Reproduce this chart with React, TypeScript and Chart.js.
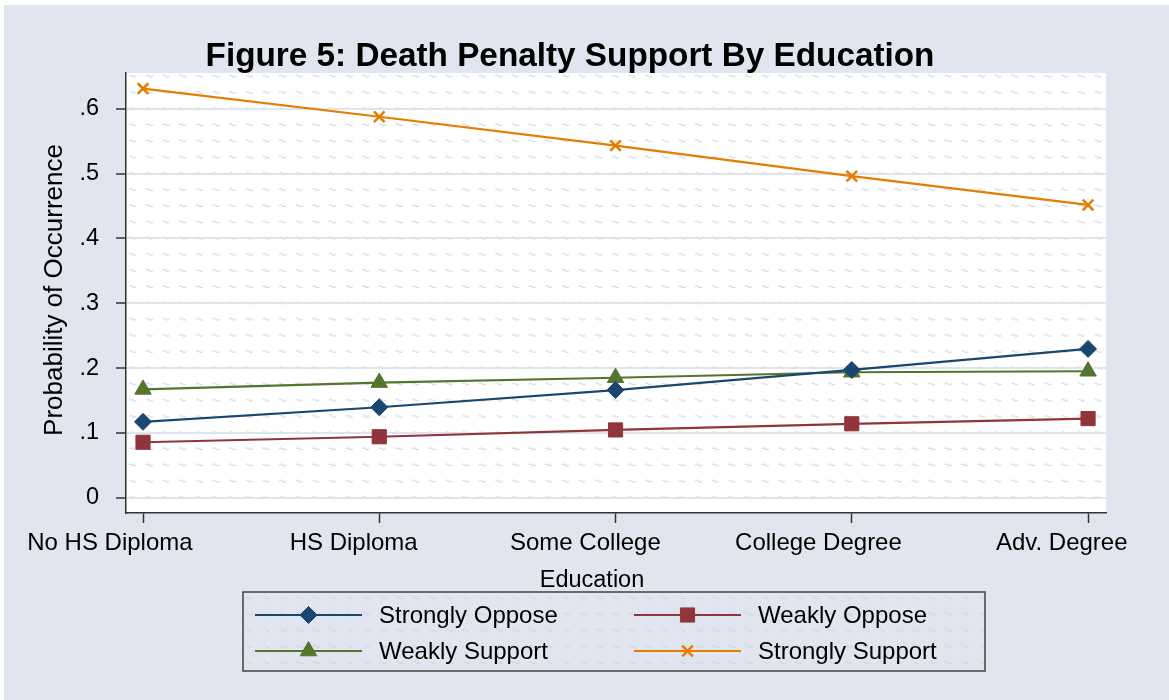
import React, { useEffect, useRef } from 'react';
import { Chart, registerables } from 'chart.js';
import { drawPoint } from 'chart.js/helpers';

Chart.register(...registerables);

const categories = ['No HS Diploma', 'HS Diploma', 'Some College', 'College Degree', 'Adv. Degree'];
const categoryPositions = [1, 2, 3, 4, 5];
const stronglyOppose = [0.117, 0.1395, 0.166, 0.197, 0.2295];
const weaklyOppose = [0.0855, 0.094, 0.1045, 0.114, 0.122];
const weaklySupport = [0.167, 0.1775, 0.185, 0.1935, 0.195];
const stronglySupport = [0.631, 0.5875, 0.543, 0.496, 0.4515];
const yTickValues = [0, 0.1, 0.2, 0.3, 0.4, 0.5, 0.6];
const yTickLabels = ['0', '.1', '.2', '.3', '.4', '.5', '.6'];
const seriesLabels = ['Strongly Oppose', 'Weakly Oppose', 'Weakly Support', 'Strongly Support'];
const seriesColors = ['#1a476f', '#90353b', '#55752f', '#e37e00'];
const seriesMarkers = ['rectRot', 'rect', 'triangle', 'crossRot'];
const markerRadius = [8.5, 10, 9.5, 7.5];
const seriesValues = [stronglyOppose, weaklyOppose, weaklySupport, stronglySupport];

const FONT = '"Liberation Sans", Arial, Helvetica, sans-serif';
const BG = '#e1e5f0';

function makePattern(): CanvasPattern | null {
  const c = document.createElement('canvas');
  c.width = 16;
  c.height = 16;
  const g = c.getContext('2d');
  if (!g) return null;
  g.strokeStyle = 'rgb(206,213,229)';
  g.lineWidth = 1.1;
  g.beginPath();
  g.moveTo(3, 7.5);
  g.lineTo(5, 6.8);
  g.lineTo(7.5, 8.6);
  g.lineTo(10, 8);
  g.stroke();
  const ctx = document.createElement('canvas').getContext('2d');
  return ctx ? ctx.createPattern(c, 'repeat') : null;
}

export default function App() {
  const ref = useRef<HTMLCanvasElement | null>(null);

  useEffect(() => {
    document.body.style.margin = '0';
    document.body.style.overflow = 'hidden';
    const canvas = ref.current;
    if (!canvas) return;
    const pattern = makePattern();

    const fillPattern = (ctx: CanvasRenderingContext2D, x: number, y: number, w: number, h: number, oy: number) => {
      if (!pattern) return;
      try {
        pattern.setTransform(new DOMMatrix().translate(x, oy).scale(1.04, 1.0125));
      } catch (e) {}
      ctx.fillStyle = pattern;
      ctx.fillRect(x, y, w, h);
    };

    const decor = {
      id: 'decor',
      beforeDraw(chart: any) {
        const ctx: CanvasRenderingContext2D = chart.ctx;
        const { left, top, right, bottom } = chart.chartArea;
        ctx.save();
        ctx.fillStyle = '#ffffff';
        ctx.fillRect(0, 0, chart.width, chart.height);
        ctx.fillStyle = BG;
        ctx.fillRect(4, 5, chart.width - 4, chart.height - 5);
        ctx.fillStyle = '#ffffff';
        ctx.fillRect(left, top, right - left, bottom - top);
        const y06 = chart.scales.y.getPixelForValue(0.6);
        fillPattern(ctx, left, top, right - left, bottom - top, y06 - 8 - 16.2 * 3);
        ctx.restore();
      },
      afterDraw(chart: any) {
        const ctx: CanvasRenderingContext2D = chart.ctx;
        const { left, top, bottom } = chart.chartArea;
        ctx.save();
        // title
        ctx.fillStyle = '#000';
        ctx.font = `bold 33.3px ${FONT}`;
        ctx.textAlign = 'center';
        ctx.textBaseline = 'alphabetic';
        ctx.fillText('Figure 5: Death Penalty Support By Education', 570, 66);
        // x tick labels (Stata-style offset placement)
        ctx.font = `24px ${FONT}`;
        ctx.textAlign = 'left';
        const xs = chart.scales.x;
        categoryPositions.forEach((p, k) => {
          const px = xs.getPixelForValue(p);
          const w = ctx.measureText(categories[k]).width;
          ctx.fillText(categories[k], px - 0.7 * w, 550);
        });
        // axis titles
        ctx.textAlign = 'center';
        ctx.font = `23.5px ${FONT}`;
        ctx.fillText('Education', 592, 587);
        ctx.save();
        ctx.translate(left - 64, (top + bottom) / 2 - 3);
        ctx.rotate(-Math.PI / 2);
        ctx.textBaseline = 'alphabetic';
        ctx.font = `26px ${FONT}`;
        ctx.fillText('Probability of Occurrence', 0, 0);
        ctx.restore();
        // legend
        const bx = 243, by = 592, bw = 742, bh = 79;
        ctx.fillStyle = BG;
        ctx.fillRect(bx, by, bw, bh);
        fillPattern(ctx, bx, by, bw, bh, by - 2);
        ctx.strokeStyle = '#404040';
        ctx.lineWidth = 1.5;
        ctx.strokeRect(bx, by, bw, bh);
        const colLine = [255, 634];
        const colText = [379, 758];
        const rowY = [615, 651];
        chart.data.datasets.forEach((ds: any, i: number) => {
          const col = i % 2;
          const row = Math.floor(i / 2);
          const y = rowY[row];
          ctx.strokeStyle = ds.borderColor;
          ctx.lineWidth = 2.2;
          ctx.beginPath();
          ctx.moveTo(colLine[col], y);
          ctx.lineTo(colLine[col] + 107, y);
          ctx.stroke();
          ctx.fillStyle = ds.pointBackgroundColor;
          ctx.strokeStyle = ds.pointBorderColor;
          ctx.lineWidth = ds.pointBorderWidth;
          drawPoint(ctx, { pointStyle: ds.pointStyle, radius: ds.pointRadius, rotation: 0, borderWidth: ds.pointBorderWidth } as any, colLine[col] + 53.5, y);
          ctx.fillStyle = '#000';
          ctx.font = `24px ${FONT}`;
          ctx.textAlign = 'left';
          ctx.textBaseline = 'middle';
          ctx.fillText(ds.label, colText[col], y + 1);
        });
        ctx.restore();
      },
    };

    const datasets = seriesValues.map((vals, i) => ({
      label: seriesLabels[i],
      data: vals.map((v, j) => ({ x: categoryPositions[j], y: v })),
      borderColor: seriesColors[i],
      backgroundColor: seriesColors[i],
      borderWidth: 2.2,
      pointStyle: seriesMarkers[i],
      pointRadius: markerRadius[i],
      pointBackgroundColor: seriesColors[i],
      pointBorderColor: seriesColors[i],
      pointBorderWidth: seriesMarkers[i] === 'crossRot' ? 2.5 : 1,
      tension: 0,
      fill: false,
    }));

    const chart = new Chart(canvas, {
      type: 'line',
      data: { datasets },
      options: {
        responsive: false,
        animation: false,
        events: [],
        layout: { padding: { left: 0, right: 63, top: 73, bottom: 87 } },
        plugins: {
          legend: { display: false },
          title: { display: false },
          tooltip: { enabled: false },
        },
        scales: {
          x: {
            type: 'linear',
            min: 0.928,
            max: 5.076,
            afterBuildTicks: (s: any) => {
              s.ticks = categoryPositions.map((v) => ({ value: v }));
            },
            afterFit: (s: any) => {
              s.height = 100;
            },
            ticks: { display: false },
            grid: { drawOnChartArea: false, tickLength: 10, tickColor: '#333', tickWidth: 1.5 },
            border: { color: '#333', width: 1.5 },
          },
          y: {
            type: 'linear',
            min: -0.0236,
            max: 0.655,
            afterBuildTicks: (s: any) => {
              s.ticks = yTickValues.map((v) => ({ value: v }));
            },
            afterFit: (s: any) => {
              s.width = 126;
            },
            ticks: {
              padding: 17,
              color: '#000',
              font: { family: FONT, size: 23.5 },
              callback: (v: any) => {
                const k = yTickValues.findIndex((t) => Math.abs(t - Number(v)) < 1e-9);
                return k >= 0 ? yTickLabels[k] : '';
              },
            },
            grid: { color: '#dfe4ef', lineWidth: 2, tickLength: 10, tickColor: '#333', tickWidth: 1.5 },
            border: { color: '#333', width: 1.5 },
          },
        },
      },
      plugins: [decor],
    } as any);

    return () => chart.destroy();
  }, []);

  return (
    <div style={{ width: 1169, height: 700 }}>
      <canvas ref={ref} width={1169} height={700} style={{ display: 'block', width: 1169, height: 700 }} />
    </div>
  );
}
